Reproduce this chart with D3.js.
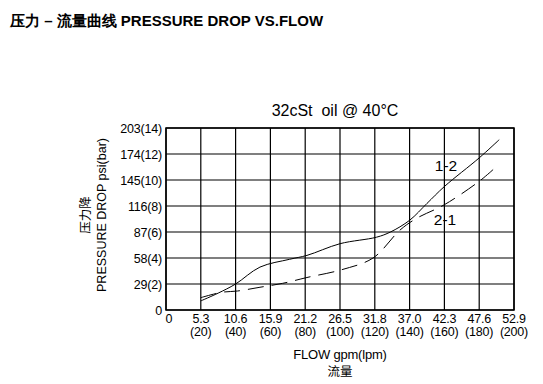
<!DOCTYPE html>
<html><head><meta charset="utf-8">
<script src="https://cdn.jsdelivr.net/npm/d3@7"></script>
<style>body{margin:0;background:#fff}svg{display:block;font-family:"Liberation Sans",Arial,sans-serif}</style>
</head><body><svg id="c" width="543" height="384"></svg>
<script>
const xTicksLpm = [0,20,40,60,80,100,120,140,160,180,200];
const xTickGpm = ["0","5.3","10.6","15.9","21.2","26.5","31.8","37.0","42.3","47.6","52.9"];
const yTicksBar = [0,2,4,6,8,10,12,14];
const yTickPsi = ["0","29","58","87","116","145","174","203"];
// curve 1-2 (solid): flow lpm, pressure bar
const flow12 = [20,30,40,54,71,81,100,121,129,140,150,160,180,191.5];
const bar12  = [0.7,1.3,2.0,3.3,3.9,4.2,5.1,5.6,6.0,6.9,8.2,9.5,11.7,13.1];
// curve 2-1 (dashed)
const flow21 = [20,32,41,54,67,81,101,119,134.5,144,160,180,188];
const bar21  = [0.95,1.36,1.46,1.75,2.05,2.5,3.1,4.0,6.15,7.05,8.1,9.9,10.8];

const svg = d3.select("#c");
const L=166,R=514,T=128,B=310;
const x = d3.scaleLinear().domain([0,200]).range([L,R]);
const y = d3.scaleLinear().domain([0,14]).range([B,T]);

svg.append("text").attr("x",10).attr("y",26).attr("font-size",15).attr("font-weight","bold")
  .text("压力 – 流量曲线 PRESSURE DROP VS.FLOW");

// grid
const g = svg.append("g");
g.selectAll(".vx").data(xTicksLpm).enter().append("line")
  .attr("x1",d=>x(d)).attr("x2",d=>x(d)).attr("y1",T).attr("y2",B)
  .attr("stroke","#000").attr("stroke-width",1.2);
g.selectAll(".hy").data(yTicksBar).enter().append("line")
  .attr("y1",d=>y(d)).attr("y2",d=>y(d)).attr("x1",L).attr("x2",R)
  .attr("stroke","#000").attr("stroke-width",1.2);
g.append("rect").attr("x",L).attr("y",T).attr("width",R-L).attr("height",B-T)
  .attr("fill","none").attr("stroke","#000").attr("stroke-width",1.5);

// y tick labels
svg.selectAll(".yl").data(yTicksBar).enter().append("text")
  .attr("x",162).attr("y",d=>y(d)+4.5).attr("text-anchor","end").attr("font-size",12.5)
  .attr("letter-spacing",-0.2)
  .text((d,i)=> i===0 ? "0" : yTickPsi[i]+"("+d+")");

// x tick labels
const xl = svg.selectAll(".xl").data(xTicksLpm).enter().append("g");
xl.append("text").attr("x",(d,i)=>i===0?x(d)+3:x(d)).attr("y",323).attr("text-anchor","middle")
  .attr("font-size",12.5).attr("letter-spacing",-0.2).text((d,i)=>xTickGpm[i]);
xl.filter((d,i)=>i>0).append("text").attr("x",d=>x(d)).attr("y",336).attr("text-anchor","middle")
  .attr("font-size",12.5).attr("letter-spacing",-0.2).text(d=>"("+d+")");

// axis titles
svg.append("text").attr("x",340).attr("y",359).attr("text-anchor","middle").attr("font-size",13)
  .attr("letter-spacing",-0.2).text("FLOW gpm(lpm)");
svg.append("text").attr("x",340).attr("y",376).attr("text-anchor","middle").attr("font-size",12.5)
  .attr("font-family","Noto Sans CJK SC").text("流量");
svg.append("text").attr("transform","translate(90,215) rotate(-90)").attr("text-anchor","middle")
  .attr("font-size",12.5).attr("font-family","Noto Sans CJK SC").text("压力降");
svg.append("text").attr("transform","translate(106,215) rotate(-90)").attr("text-anchor","middle")
  .attr("font-size",12.5).text("PRESSURE DROP psi(bar)");

// chart title
svg.append("text").attr("x",335).attr("y",116).attr("text-anchor","middle").attr("font-size",16)
  .attr("xml:space","preserve").text("32cSt  oil @ 40°C");

const line = d3.line().x(d=>x(d[0])).y(d=>y(d[1])).curve(d3.curveCatmullRom.alpha(0.5));
svg.append("path").datum(d3.zip(flow12,bar12)).attr("d",line)
  .attr("fill","none").attr("stroke","#000").attr("stroke-width",1);
svg.append("path").datum(d3.zip(flow21,bar21)).attr("d",line)
  .attr("fill","none").attr("stroke","#000").attr("stroke-width",1).attr("stroke-dasharray","16,8");

svg.append("text").attr("x",446).attr("y",171).attr("text-anchor","middle").attr("font-size",15.5).text("1-2");
svg.append("text").attr("x",445).attr("y",225).attr("text-anchor","middle").attr("font-size",15.5).text("2-1");
</script></body></html>
